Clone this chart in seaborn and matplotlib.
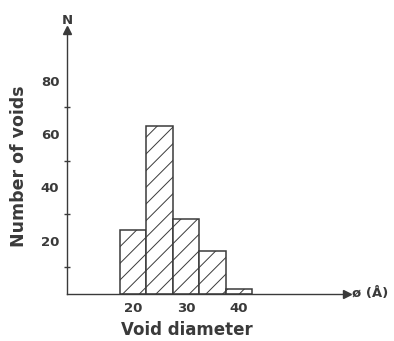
import matplotlib
matplotlib.use("Agg")
import numpy as np
import pandas as pd
import seaborn as sns
import matplotlib.pyplot as plt

# bin data
bin_edges = [17.5, 22.5, 27.5, 32.5, 37.5, 42.5]
bin_centers = [20, 25, 30, 35, 40]
void_counts = [24, 63, 28, 16, 2]
x_ticks = [20, 30, 40]
y_major = [20, 40, 60, 80]
y_minor = [10, 30, 50, 70]

sns.set_style("white")
plt.rcParams['font.family'] = ['DejaVu Sans']
plt.rcParams['hatch.linewidth'] = 0.7

ink = '#3a3a3a'
df = pd.DataFrame({'diameter': bin_centers, 'count': void_counts})

fig = plt.figure(figsize=(3.94, 3.41), dpi=100)
ax = fig.add_axes([67 / 394, 47 / 341, 280 / 394, 264 / 341])

sns.histplot(data=df, x='diameter', weights='count', bins=bin_edges,
             color='white', edgecolor=ink, linewidth=1.1, alpha=1, ax=ax)
for p in ax.patches:
    p.set_hatch('//')
    p.set_facecolor('white')
    p.set_edgecolor(ink)

ax.set_xlim(7.5, 60.4)
ax.set_ylim(0, 99)

for s in ['top', 'right']:
    ax.spines[s].set_visible(False)
for s in ['left', 'bottom']:
    ax.spines[s].set_color(ink)
    ax.spines[s].set_linewidth(1.0)

# arrow heads on the axes
ax.plot(1, 0, marker='>', color=ink, markersize=6, transform=ax.transAxes, clip_on=False)
ax.plot(0, 1, marker='^', color=ink, markersize=6, transform=ax.transAxes, clip_on=False)

ax.set_xticks(x_ticks)
ax.set_yticks(y_major)
ax.set_yticks(y_minor, minor=True)
ax.tick_params(axis='both', which='major', direction='inout', length=5, width=1,
               color=ink, labelcolor=ink, labelsize=9.5, pad=3)
ax.tick_params(axis='y', which='minor', direction='inout', length=4, width=1, color=ink, left=True)
for lab in ax.get_xticklabels() + ax.get_yticklabels():
    lab.set_fontweight('bold')

ax.set_xlabel('Void diameter', fontsize=12, fontweight='bold', color=ink)
ax.set_ylabel('Number of voids', fontsize=12.5, fontweight='bold', color=ink)
ax.xaxis.set_label_coords((187 - 67) / 280, -27 / 264)
ax.yaxis.set_label_coords(-39 / 280, (294 - 166) / 264)

fig.text(67 / 394, 1 - 20 / 341, 'N', ha='center', va='center', fontsize=9.5,
         fontweight='bold', color=ink)
fig.text(352 / 394, 1 - 293 / 341, 'ø (Å)', ha='left', va='center', fontsize=9.5,
         fontweight='bold', color=ink)

fig.savefig('out.png', dpi=100)
